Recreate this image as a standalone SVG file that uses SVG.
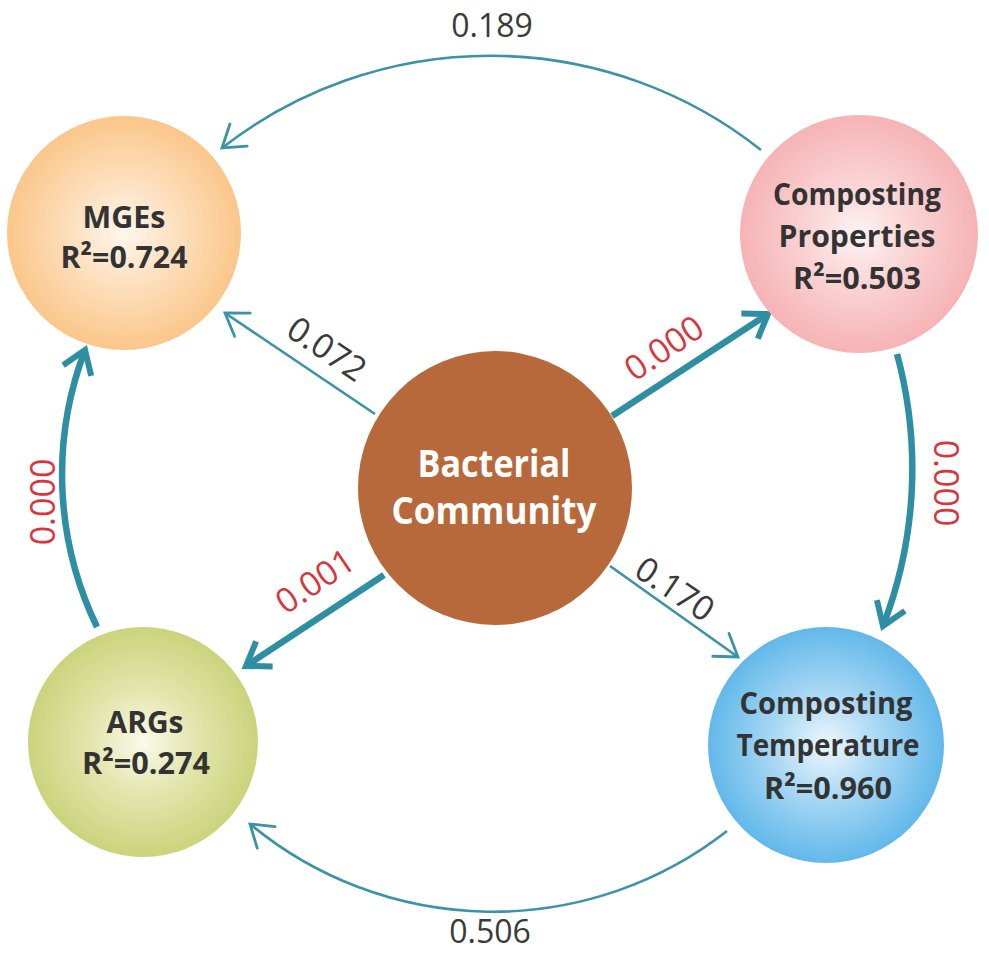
<svg xmlns="http://www.w3.org/2000/svg" width="989" height="954" viewBox="0 0 989 954">
<defs>
<radialGradient id="gOrange" cx="50%" cy="50%" r="50%">
<stop offset="0" stop-color="#FFF6EC"/>
<stop offset="0.45" stop-color="#FDE0BE"/>
<stop offset="1" stop-color="#FBC68A"/>
</radialGradient>
<radialGradient id="gPink" cx="50%" cy="50%" r="50%">
<stop offset="0" stop-color="#FEF3F3"/>
<stop offset="0.45" stop-color="#FAD3D4"/>
<stop offset="1" stop-color="#F6B3B5"/>
</radialGradient>
<radialGradient id="gGreen" cx="50%" cy="50%" r="50%">
<stop offset="0" stop-color="#FAFAEA"/>
<stop offset="0.45" stop-color="#E3E6AE"/>
<stop offset="1" stop-color="#CBD37C"/>
</radialGradient>
<radialGradient id="gBlue" cx="50%" cy="50%" r="50%">
<stop offset="0" stop-color="#EEF7FD"/>
<stop offset="0.45" stop-color="#A9D8F4"/>
<stop offset="1" stop-color="#62B8EA"/>
</radialGradient>
<marker id="arrThin" markerUnits="userSpaceOnUse" viewBox="-30 -20 34 40" markerWidth="34" markerHeight="40" refX="0" refY="0" orient="auto" overflow="visible">
<path d="M-21 -14 L0 0 L-21 14" fill="none" stroke="#3A93A6" stroke-width="2.8" stroke-linecap="round" stroke-linejoin="miter"/>
</marker>
<marker id="arrThick" markerUnits="userSpaceOnUse" viewBox="-30 -20 34 40" markerWidth="34" markerHeight="40" refX="0" refY="0" orient="auto" overflow="visible">
<path d="M-22 -15 L0 0 L-22 15" fill="none" stroke="#2E8FA3" stroke-width="6" stroke-linecap="butt" stroke-linejoin="miter"/>
</marker>
</defs>
<style>
.thin{fill:none;stroke:#3A93A6;stroke-width:2.6;marker-end:url(#arrThin)}
.thick{fill:none;stroke:#2E8FA3;stroke-width:6.5;marker-end:url(#arrThick)}
.nt{font-family:"Open Sans","Liberation Sans",sans-serif;font-weight:bold;font-size:31px;fill:#333333;text-anchor:middle}
.bt{font-family:"Open Sans","Liberation Sans",sans-serif;font-weight:bold;font-size:38px;fill:#FFFFFF;text-anchor:middle}
.lb{font-family:"Open Sans","Liberation Sans",sans-serif;font-size:34px;fill:#3A3A3A;text-anchor:middle}
.lr{font-family:"Open Sans","Liberation Sans",sans-serif;font-size:34px;fill:#D8353D;text-anchor:middle}
.edge{font-size:32px}
</style>

<g id="connectors">
<path class="thin" d="M761 150 A436 436 0 0 0 222 148"/>
<path class="thin" d="M727 831 A380 380 0 0 1 250 824"/>
<path class="thick" d="M97 627 A350 350 0 0 1 85 350"/>
<path class="thick" d="M897 354 A437 437 0 0 1 883 626"/>
<line class="thin" x1="375" y1="414" x2="225" y2="313"/>
<line class="thick" x1="612" y1="416" x2="768" y2="314"/>
<line class="thick" x1="384" y1="575" x2="246" y2="666"/>
<line class="thin" x1="610" y1="566" x2="738" y2="657"/>
</g>

<g id="labels">
<text class="lb edge" x="492" y="37">0.189</text>
<text class="lb edge" x="490" y="943">0.506</text>
<text class="lr" transform="translate(43 502) rotate(-90)" dy="12">0.000</text>
<text class="lr" transform="translate(946 483) rotate(90)" dy="12">0.000</text>
<text class="lb" transform="translate(327 349) rotate(34)" dy="12">0.072</text>
<text class="lr" transform="translate(664 348) rotate(-34)" dy="12">0.000</text>
<text class="lr" transform="translate(315 581) rotate(-34)" dy="12">0.001</text>
<text class="lb" transform="translate(675 589) rotate(34)" dy="12">0.170</text>
</g>

<g id="node-mges">
<circle cx="124" cy="233" r="117" fill="url(#gOrange)"/>
<text class="nt" x="124" y="228" textLength="83" lengthAdjust="spacingAndGlyphs">MGEs</text>
<text class="nt" x="124" y="268" textLength="127" lengthAdjust="spacingAndGlyphs">R²=0.724</text>
</g>

<g id="node-properties">
<circle cx="859" cy="234" r="119" fill="url(#gPink)"/>
<text class="nt" x="857" y="205" textLength="168" lengthAdjust="spacingAndGlyphs">Composting</text>
<text class="nt" x="857" y="247" textLength="157" lengthAdjust="spacingAndGlyphs">Properties</text>
<text class="nt" x="857" y="289" textLength="128" lengthAdjust="spacingAndGlyphs">R²=0.503</text>
</g>

<g id="node-bacterial">
<circle cx="495" cy="488" r="137" fill="#B7693B"/>
<text class="bt" x="494" y="477" textLength="153" lengthAdjust="spacingAndGlyphs">Bacterial</text>
<text class="bt" x="494" y="524" textLength="205" lengthAdjust="spacingAndGlyphs">Community</text>
</g>

<g id="node-args">
<circle cx="143" cy="742" r="115" fill="url(#gGreen)"/>
<text class="nt" x="145" y="733" textLength="77" lengthAdjust="spacingAndGlyphs">ARGs</text>
<text class="nt" x="146" y="774" textLength="128" lengthAdjust="spacingAndGlyphs">R²=0.274</text>
</g>

<g id="node-temperature">
<circle cx="826" cy="745" r="118" fill="url(#gBlue)"/>
<text class="nt" x="826" y="714" textLength="173" lengthAdjust="spacingAndGlyphs">Composting</text>
<text class="nt" x="828" y="756" textLength="183" lengthAdjust="spacingAndGlyphs">Temperature</text>
<text class="nt" x="828" y="799" textLength="128" lengthAdjust="spacingAndGlyphs">R²=0.960</text>
</g>
</svg>
